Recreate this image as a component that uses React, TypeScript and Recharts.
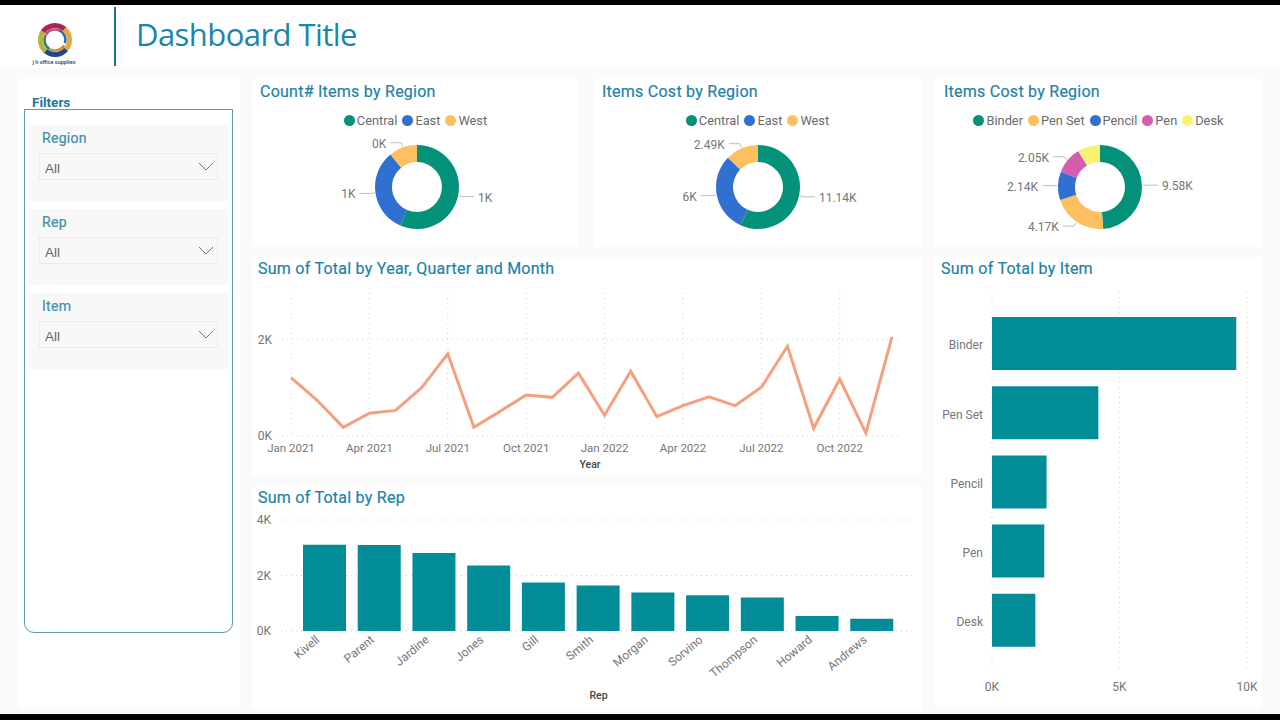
import React from "react";
import {
  BarChart, Bar, LineChart, Line, PieChart, Pie, Cell, XAxis, YAxis, CartesianGrid, Legend,
} from "recharts";

const regionNames = ["Central", "East", "West"];
const regionCounts = [1199, 691, 231];
const regionCosts = [11140, 6000, 2490];
const regionColors = ["#04917A", "#2F70D1", "#FDBF60"];

const itemNames = ["Binder", "Pen Set", "Pencil", "Pen", "Desk"];
const itemTotals = [9580, 4170, 2140, 2050, 1700];
const itemColors = ["#04917A", "#FDBF60", "#2F70D1", "#D55DAD", "#F8F273"];
const unlabelledSlices = ["Desk"];

const months = [
  "Jan 2021", "Feb 2021", "Mar 2021", "Apr 2021", "May 2021", "Jun 2021",
  "Jul 2021", "Aug 2021", "Sep 2021", "Oct 2021", "Nov 2021", "Dec 2021",
  "Jan 2022", "Feb 2022", "Mar 2022", "Apr 2022", "May 2022", "Jun 2022",
  "Jul 2022", "Aug 2022", "Sep 2022", "Oct 2022", "Nov 2022", "Dec 2022",
];
const monthTotals = [
  1210, 740, 180, 470, 530, 1000, 1700, 180, 510, 850, 800, 1300,
  430, 1340, 400, 630, 810, 630, 1010, 1860, 160, 1180, 60, 2050,
];

const repNames = [
  "Kivell", "Parent", "Jardine", "Jones", "Gill", "Smith",
  "Morgan", "Sorvino", "Thompson", "Howard", "Andrews",
];
const repTotals = [3109, 3102, 2812, 2363, 1750, 1641, 1388, 1284, 1203, 537, 438];

const filterNames = ["Region", "Rep", "Item"];

const zip = (names: string[], values: number[]) => names.map((name, i) => ({ name, value: values[i] }));

const TITLE = "#1E82A8";
const GREY = "#767676";
const TEAL = "#028C98";
const SALMON = "#F4A07F";
const GRID = "#D2D2D2";
const FONT = "Roboto, sans-serif";

const kTick = (v: number) => `${v / 1000}K`;
const kRound = (v: number) => `${Math.round(v / 1000)}K`;
const kTwo = (v: number) => `${parseFloat((v / 1000).toFixed(2))}K`;

const Card = ({ x, y, w, h, children }: any) => (
  <div style={{ position: "absolute", left: x, top: y, width: w, height: h, background: "#fff" }}>{children}</div>
);

const Title = ({ x, y, children }: any) => (
  <div style={{
    position: "absolute", left: x, top: y, fontFamily: FONT, fontSize: 16, fontWeight: 400,
    letterSpacing: 0.25, color: TITLE, lineHeight: "20px", whiteSpace: "nowrap",
    WebkitTextStroke: "0.2px " + TITLE,
  }}>{children}</div>
);

const LegendRow = ({ payload }: any) => (
  <div style={{ display: "flex", justifyContent: "center", gap: 5, fontFamily: FONT, fontSize: 12.8, color: "#6a6a6a" }}>
    {(payload || []).map((p: any) => (
      <span key={p.value} style={{ display: "flex", alignItems: "center" }}>
        <span style={{ width: 11, height: 11, borderRadius: 6, background: p.color, marginRight: 2 }} />
        {p.value}
      </span>
    ))}
  </div>
);

const sliceLabel = (format: (v: number) => string) => (props: any) => {
  const { cx, cy, midAngle, outerRadius, value, name } = props;
  if (unlabelledSlices.includes(name)) return null;
  const rad = (midAngle * Math.PI) / 180;
  const dir = Math.cos(rad) >= 0 ? 1 : -1;
  const ex = cx + (outerRadius + 1) * Math.cos(rad);
  const ey = cy - (outerRadius + 1) * Math.sin(rad);
  const mx = cx + (outerRadius + 5) * Math.cos(rad);
  const my = cy - (outerRadius + 5) * Math.sin(rad);
  const hx = mx + dir * 11;
  return (
    <g>
      <polyline points={`${ex},${ey} ${mx},${my} ${hx},${my}`} fill="none" stroke="#BDBDBD" strokeWidth={1} />
      <text x={hx + dir * 4} y={my + 1} textAnchor={dir > 0 ? "start" : "end"} dominantBaseline="central"
        fontFamily={FONT} fontSize={12} fill={GREY}>
        {format(value)}
      </text>
    </g>
  );
};

const Donut = ({ names, values, colors, format, cx }: any) => (
  <PieChart width={327} height={168} margin={{ top: 0, right: 0, bottom: 0, left: 0 }}>
    <Legend verticalAlign="top" align="center" content={LegendRow} itemSorter={null}
      wrapperStyle={{ top: 34, left: 0, width: 327 }} />
    <Pie data={zip(names, values)} dataKey="value" nameKey="name" cx={cx} cy={93}
      innerRadius={25} outerRadius={42} startAngle={90} endAngle={-270} stroke="none"
      label={sliceLabel(format)} labelLine={false} isAnimationActive={false}>
      {names.map((n: string, i: number) => <Cell key={n} fill={colors[i]} />)}
    </Pie>
  </PieChart>
);

const RepTick = ({ x, y, payload }: any) => (
  <text x={0} y={0} textAnchor="end" transform={`translate(${x - 4},${y + 8}) rotate(-40)`}
    fontFamily={FONT} fontSize={12} fill={GREY}>
    {payload.value}
  </text>
);

const Slicer = ({ label, y }: any) => (
  <div style={{ position: "absolute", left: 29, top: y, width: 199, height: 76, background: "#F8F8F8" }}>
    <div style={{ position: "absolute", left: 13, top: 5, fontFamily: FONT, fontSize: 14, letterSpacing: 0.3, color: "#3E8FB0", WebkitTextStroke: "0.2px #3E8FB0" }}>{label}</div>
    <div style={{ position: "absolute", left: 10, top: 28, width: 179, height: 27, boxSizing: "border-box", border: "1px solid #ECECEC" }}>
      <span style={{ position: "absolute", left: 5, top: 7, fontFamily: "'Liberation Sans', sans-serif", fontSize: 13.5, color: "#666" }}>All</span>
      <svg width={16} height={10} style={{ position: "absolute", right: 3, top: 8 }}>
        <polyline points="1,1 8,8 15,1" fill="none" stroke="#777" strokeWidth={1} />
      </svg>
    </div>
  </div>
);

const Logo = () => (
  <svg width={40} height={40} style={{ position: "absolute", left: 35, top: 20 }} viewBox="-20 -20 40 40">
    <g fill="none">
      <circle r={14.5} stroke="#E9A63A" strokeWidth={5} strokeDasharray="24 67" transform="rotate(-55)" />
      <circle r={14.5} stroke="#1C4A8C" strokeWidth={5} strokeDasharray="24 67" transform="rotate(40)" />
      <circle r={14.5} stroke="#B8B43A" strokeWidth={5} strokeDasharray="24 67" transform="rotate(130)" />
      <circle r={14.5} stroke="#AE1F5C" strokeWidth={5} strokeDasharray="24 67" transform="rotate(215)" />
      <circle r={10.5} stroke="#2A6FA8" strokeWidth={2.5} strokeDasharray="16 50" transform="rotate(-70)" />
      <circle r={10.5} stroke="#D9862E" strokeWidth={2.5} strokeDasharray="16 50" transform="rotate(30)" />
      <circle r={10.5} stroke="#2E7F7A" strokeWidth={2.5} strokeDasharray="16 50" transform="rotate(120)" />
      <circle r={10.5} stroke="#C9506A" strokeWidth={2.5} strokeDasharray="16 50" transform="rotate(210)" />
    </g>
  </svg>
);

export default function App() {
  return (
    <div style={{ position: "absolute", left: 0, top: 0, width: 1280, height: 720, overflow: "hidden", background: "#FAFAFA" }}>
      <div style={{ position: "absolute", left: 0, top: 0, width: 1280, height: 5, background: "#000" }} />
      <div style={{ position: "absolute", left: 0, top: 714, width: 1280, height: 6, background: "#000", zIndex: 5 }} />

      <div style={{ position: "absolute", left: 0, top: 5, width: 1280, height: 63, background: "#fff" }} />
      <Logo />
      <div style={{ position: "absolute", left: 31, top: 59, width: 46, textAlign: "center", fontFamily: FONT, fontSize: 5.5, fontWeight: 500, color: "#23406e", whiteSpace: "nowrap" }}>j h office supplies</div>
      <div style={{ position: "absolute", left: 114, top: 7, width: 2, height: 59, background: "#1572A1" }} />
      <div style={{ position: "absolute", left: 136, top: 12, fontFamily: "'Open Sans', sans-serif", fontSize: 31, letterSpacing: -0.55, color: "#1A85AE", lineHeight: "44px", whiteSpace: "nowrap" }}>Dashboard Title</div>

      <Card x={18} y={79} w={222} h={629} />
      <div style={{ position: "absolute", left: 32, top: 94, fontFamily: FONT, fontSize: 13.5, fontWeight: 700, color: "#1E78A0" }}>Filters</div>
      <div style={{ position: "absolute", left: 24, top: 109, width: 209, height: 524, boxSizing: "border-box", border: "1px solid #5E97B8", borderRadius: "0 0 10px 10px" }} />
      {filterNames.map((f, i) => <Slicer key={f} label={f} y={125 + i * 84} />)}

      <Card x={252} y={79} w={327} h={168}>
        <Donut names={regionNames} values={regionCounts} colors={regionColors} format={kRound} cx={165} />
      </Card>
      <Title x={260} y={82}>Count# Items by Region</Title>

      <Card x={594} y={79} w={327} h={168}>
        <Donut names={regionNames} values={regionCosts} colors={regionColors} format={kTwo} cx={164} />
      </Card>
      <Title x={602} y={82}>Items Cost by Region</Title>

      <Card x={935} y={79} w={327} h={168}>
        <Donut names={itemNames} values={itemTotals} colors={itemColors} format={kTwo} cx={165} />
      </Card>
      <Title x={944} y={82}>Items Cost by Region</Title>

      <Card x={252} y={257} w={670} h={218}>
        <LineChart width={670} height={218} data={zip(months, monthTotals)} margin={{ top: 36, right: 24, bottom: 0, left: 0 }}>
          <CartesianGrid stroke={GRID} strokeDasharray="1 4" syncWithTicks />
          <XAxis dataKey="name" scale="point" padding={{ left: 9, right: 6 }} interval={2} height={39}
            axisLine={false} tickLine={false} tickSize={0} tickMargin={8}
            tick={{ fontFamily: FONT, fontSize: 11.5, fill: GREY }}
            label={{ value: "Year", position: "insideBottom", offset: 7, fontFamily: FONT, fontSize: 10.5, fontWeight: 500, fill: "#444" }} />
          <YAxis width={30} domain={[0, 2960]} ticks={[0, 2000]} tickFormatter={kTick}
            axisLine={false} tickLine={false} tickSize={0} tickMargin={10}
            tick={{ fontFamily: FONT, fontSize: 12, fill: GREY }} />
          <Line dataKey="value" type="linear" stroke={SALMON} strokeWidth={3} dot={false} isAnimationActive={false} />
        </LineChart>
      </Card>
      <Title x={258} y={259}>Sum of Total by Year, Quarter and Month</Title>

      <Card x={252} y={487} w={670} h={222}>
        <BarChart width={670} height={222} data={zip(repNames, repTotals)} margin={{ top: 33, right: 6, bottom: 0, left: 0 }}>
          <CartesianGrid stroke={GRID} strokeDasharray="1 4" vertical={false} syncWithTicks />
          <XAxis dataKey="name" padding={{ left: 16, right: 17 }} interval={0} height={78}
            axisLine={false} tickLine={false} tickSize={0} tick={RepTick}
            label={{ value: "Rep", position: "insideBottom", offset: 10, fontFamily: FONT, fontSize: 10.5, fontWeight: 500, fill: "#444" }} />
          <YAxis width={29} domain={[0, 4000]} ticks={[0, 2000, 4000]} tickFormatter={kTick}
            axisLine={false} tickLine={false} tickSize={0} tickMargin={10}
            tick={{ fontFamily: FONT, fontSize: 12, fill: GREY }} />
          <Bar dataKey="value" fill={TEAL} barSize={43} isAnimationActive={false} />
        </BarChart>
      </Card>
      <Title x={258} y={488}>Sum of Total by Rep</Title>

      <Card x={935} y={257} w={327} h={451}>
        <BarChart width={327} height={451} layout="vertical" data={zip(itemNames, itemTotals)} margin={{ top: 35, right: 15, bottom: 0, left: 0 }}>
          <CartesianGrid stroke={GRID} strokeDasharray="1 4" horizontal={false} syncWithTicks />
          <XAxis type="number" domain={[0, 10000]} ticks={[0, 5000, 10000]} tickFormatter={kTick} height={36}
            axisLine={false} tickLine={false} tickSize={0} tickMargin={10}
            tick={{ fontFamily: FONT, fontSize: 12, fill: GREY }} />
          <YAxis type="category" dataKey="name" width={57} padding={{ top: 17, bottom: 17 }} interval={0}
            axisLine={false} tickLine={false} tickSize={0} tickMargin={9}
            tick={{ fontFamily: FONT, fontSize: 12, fill: GREY, dy: 1.5 }} />
          <Bar dataKey="value" fill={TEAL} barSize={53} isAnimationActive={false} />
        </BarChart>
      </Card>
      <Title x={941} y={259}>Sum of Total by Item</Title>
    </div>
  );
}
